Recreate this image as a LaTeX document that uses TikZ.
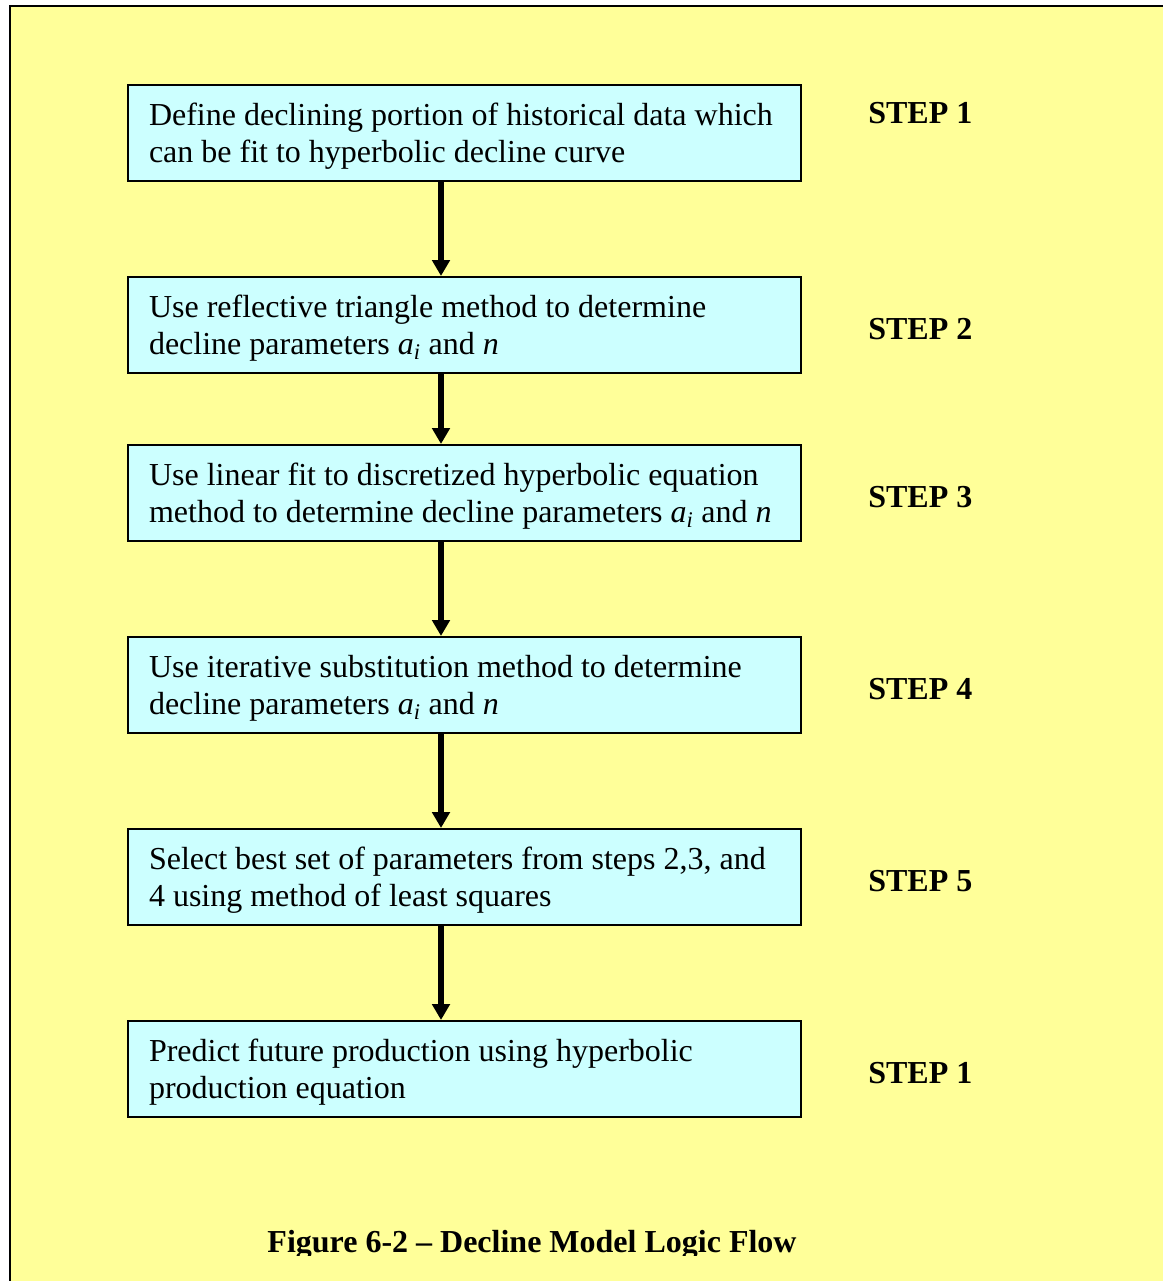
\documentclass[tikz,border=0pt]{standalone}
\usepackage{fontspec}
\setmainfont{Liberation Serif}
\usetikzlibrary{arrows.meta}
\definecolor{paleyellow}{HTML}{FFFF99}
\definecolor{palecyan}{HTML}{CCFFFF}
\tikzset{
  stepbox/.style={draw=black, line width=1.5pt, fill=palecyan, text width=473.25pt,
    text height=21pt, inner xsep=15.75pt, inner ysep=0pt, minimum height=72pt, align=flush left,
    font=\fontsize{24}{27.75}\selectfont},
  steplabel/.style={anchor=west, inner sep=0pt, font=\fontsize{24}{27.75}\selectfont\bfseries},
  flow/.style={line width=4pt, -{Triangle[width=13pt,length=12pt]}}
}
\newcommand{\ai}{\textit{a\textsubscript{i}}}

\begin{document}
\begin{tikzpicture}[x=0.75pt,y=-0.75pt]
\useasboundingbox (0,0) rectangle (1163,1281);
\clip (0,0) rectangle (1163,1281);
\draw[fill=paleyellow, line width=1.5pt] (10,6) rectangle (1180,1300);
% boxes
\node[stepbox] (b1) at (464.5,133) {Define declining portion of historical data which\\can be fit to hyperbolic decline curve};
\node[stepbox] (b2) at (464.5,325) {Use reflective triangle method to determine\\decline parameters \ai{} and \textit{n}};
\node[stepbox] (b3) at (464.5,493) {Use linear fit to discretized hyperbolic equation\\method to determine decline parameters \ai{} and \textit{n}};
\node[stepbox] (b4) at (464.5,685) {Use iterative substitution method to determine\\decline parameters \ai{} and \textit{n}};
\node[stepbox] (b5) at (464.5,877) {Select best set of parameters from steps 2,3, and\\4 using method of least squares};
\node[stepbox] (b6) at (464.5,1069) {Predict future production using hyperbolic\\production equation};
% arrows
\coordinate (spine) at (441,0);
\draw[flow] (b1.south -| spine) -- (b2.north -| spine);
\draw[flow] (b2.south -| spine) -- (b3.north -| spine);
\draw[flow] (b3.south -| spine) -- (b4.north -| spine);
\draw[flow] (b4.south -| spine) -- (b5.north -| spine);
\draw[flow] (b5.south -| spine) -- (b6.north -| spine);
% labels
\node[steplabel] (l1) at (868,113) {STEP 1};
\node[steplabel] (l2) at (868,329) {STEP 2};
\node[steplabel] (l3) at (868,497) {STEP 3};
\node[steplabel] (l4) at (868,689) {STEP 4};
\node[steplabel] (l5) at (868,881) {STEP 5};
\node[steplabel] (l6) at (868,1073) {STEP 1};
% caption
\begin{scope}
\clip (0,0) rectangle (1163,1255);
\node[anchor=base, inner sep=0pt, font=\fontsize{24}{27.75}\selectfont\bfseries] (cap) at (532,1252) {Figure 6-2 -- Decline Model Logic Flow};
\end{scope}
\end{tikzpicture}
\end{document}
